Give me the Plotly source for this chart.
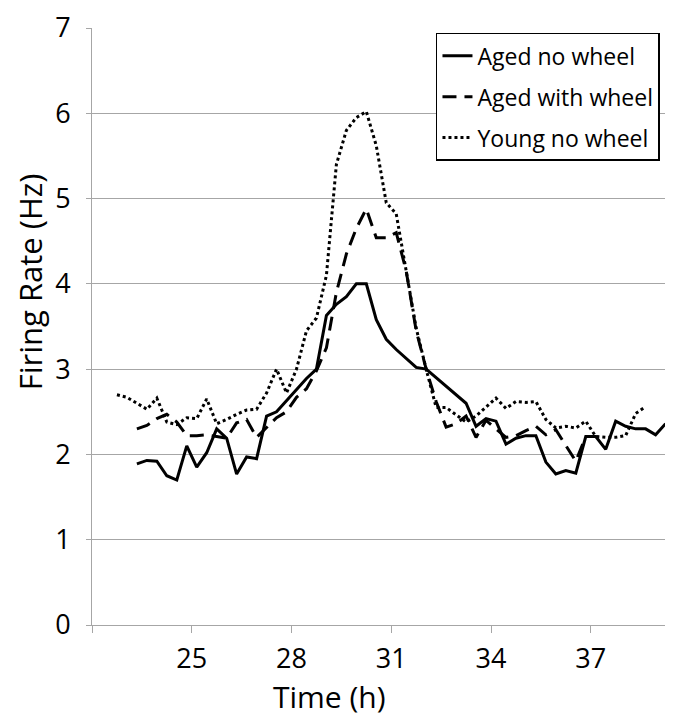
import plotly.graph_objects as go

# Time categories (hours), 0.3 h bins
time_h = [22.75, 23.05, 23.35, 23.65, 23.95, 24.25, 24.55, 24.85, 25.15, 25.45,
          25.75, 26.05, 26.35, 26.65, 26.95, 27.25, 27.55, 27.85, 28.15, 28.45,
          28.75, 29.05, 29.35, 29.65, 29.95, 30.25, 30.55, 30.85, 31.15, 31.45,
          31.75, 32.05, 32.35, 32.65, 32.95, 33.25, 33.55, 33.85, 34.15, 34.45,
          34.75, 35.05, 35.35, 35.65, 35.95, 36.25, 36.55, 36.85, 37.15, 37.45,
          37.75, 38.05, 38.35, 38.65, 38.95, 39.25]

aged_no_wheel = [None, None,
                 1.89, 1.93, 1.92, 1.75, 1.70, 2.10, 1.85, 2.02, 2.30, 2.19,
                 1.77, 1.97, 1.95, 2.45, 2.50, 2.63, 2.77, 2.89, 3.00, 3.63,
                 3.76, 3.85, 4.00, 4.00, 3.58, 3.35, 3.23, 3.13, 3.02, 3.00,
                 2.90, 2.80, 2.70, 2.60, 2.33, 2.42, 2.39, 2.12, 2.19, 2.22,
                 2.22, 1.91, 1.77, 1.81, 1.78, 2.21, 2.21, 2.06, 2.39, 2.33,
                 2.30, 2.30, 2.23, 2.36]

aged_with_wheel = [None, None,
                   2.30, 2.34, 2.42, 2.47, 2.38, 2.22, 2.22, 2.23, 2.21, 2.19,
                   2.37, 2.41, 2.20, 2.31, 2.43, 2.50, 2.67, 2.77, 2.98, 3.25,
                   3.90, 4.35, 4.65, 4.88, 4.54, 4.54, 4.60, 4.15, 3.45, 3.00,
                   2.62, 2.32, 2.36, 2.45, 2.20, 2.40, 2.30, 2.20, 2.22, 2.28,
                   2.33, 2.23, 2.29, 2.10, 1.92, 2.21,
                   None, None, None, None, None, None, None, None]

young_no_wheel = [2.70, 2.67,
                  2.60, 2.53, 2.66, 2.38, 2.35, 2.43, 2.42, 2.65, 2.36, 2.41,
                  2.47, 2.52, 2.53, 2.72, 3.00, 2.72, 3.00, 3.45, 3.60, 4.10,
                  5.40, 5.80, 5.95, 6.02, 5.62, 4.95, 4.82, 4.15, 3.48, 3.00,
                  2.55, 2.55, 2.47, 2.38, 2.45, 2.56, 2.66, 2.54, 2.62, 2.61,
                  2.62, 2.41, 2.31, 2.33, 2.31, 2.39, 2.21, 2.20, 2.20, 2.22,
                  2.48, 2.56, None, None]

x_tick_vals = [22, 25, 28, 31, 34, 37]
x_tick_text = ["", "25", "28", "31", "34", "37"]
y_tick_vals = [0, 1, 2, 3, 4, 5, 6, 7]

FONT = "Open Sans"
GRID = "#a6a6a6"

fig = go.Figure()
fig.add_trace(go.Scatter(x=time_h, y=aged_no_wheel, mode="lines", name="Aged no wheel",
                         legendgroup="a", line=dict(color="black", width=3)))
fig.add_trace(go.Scatter(x=time_h, y=aged_with_wheel, mode="lines", name="Aged with wheel",
                         legendgroup="b", line=dict(color="black", width=3, dash="14px,8px")))
fig.add_trace(go.Scatter(x=time_h, y=young_no_wheel, mode="lines", name="Young no wheel",
                         legendgroup="c", line=dict(color="black", width=3, dash="dot")))

fig.update_layout(
    width=673, height=717,
    margin=dict(l=84, r=0, t=9, b=100),
    paper_bgcolor="white", plot_bgcolor="white",
    font=dict(family=FONT, color="black"),
    showlegend=True,
    legend=dict(x=0.584, y=0.992, xanchor="left", yanchor="top",
                bordercolor="black", borderwidth=1.5, bgcolor="white",
                font=dict(size=23, family=FONT), tracegroupgap=8),
    xaxis=dict(range=[22, 39.714], tickmode="array", tickvals=x_tick_vals,
               ticktext=x_tick_text, showgrid=False, zeroline=False,
               showline=True, linecolor=GRID, linewidth=1,
               ticks="outside", ticklen=7, tickcolor=GRID, tickwidth=1,
               tickfont=dict(size=27, family=FONT), ticklabelstandoff=3),
    yaxis=dict(range=[0, 7], tickmode="array", tickvals=y_tick_vals,
               showgrid=True, gridcolor=GRID, gridwidth=1, zeroline=False,
               showline=True, linecolor=GRID, linewidth=1,
               ticks="outside", ticklen=5, tickcolor=GRID, tickwidth=1,
               tickfont=dict(size=27, family=FONT), ticklabelstandoff=10,
               ticklabeloverflow="allow"),
    annotations=[
        dict(text="Time (h)", xref="paper", yref="paper", x=0.4024, y=-0.119,
             xanchor="center", yanchor="middle", showarrow=False,
             font=dict(size=30, family=FONT)),
        dict(text="Firing Rate (Hz)", xref="paper", yref="paper", x=-0.106, y=0.575,
             xanchor="center", yanchor="middle", textangle=-90, showarrow=False,
             font=dict(size=31, family=FONT)),
    ],
)

fig.write_html("out.html")
